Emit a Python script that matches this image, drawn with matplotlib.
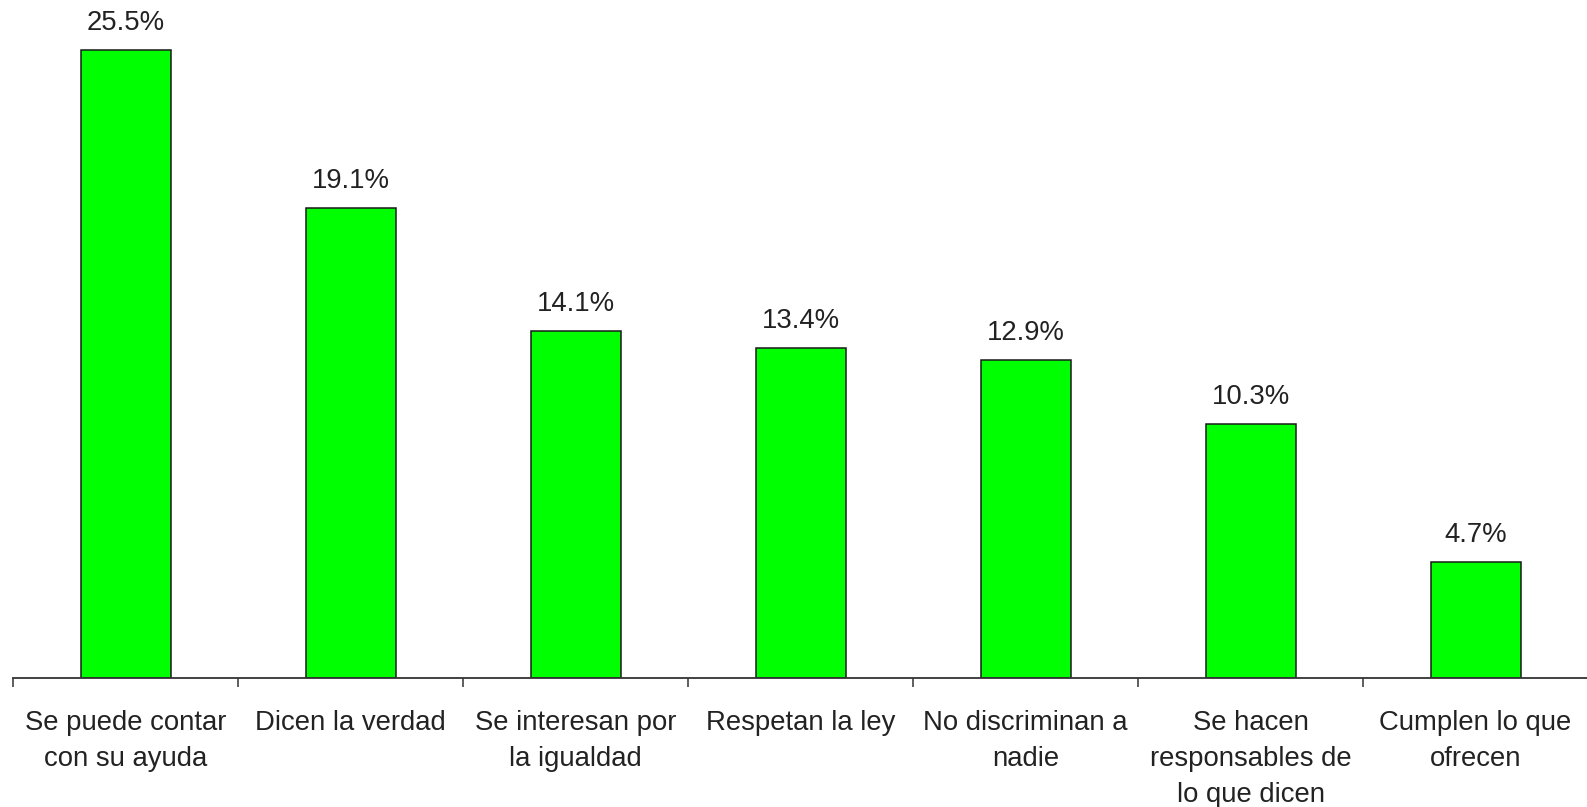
import matplotlib
matplotlib.use("Agg")
import matplotlib.pyplot as plt
import numpy as np

categories = ["Se puede contar\ncon su ayuda", "Dicen la verdad", "Se interesan por\nla igualdad",
              "Respetan la ley", "No discriminan a\nnadie", "Se hacen\nresponsables de\nlo que dicen",
              "Cumplen lo que\nofrecen"]
values = [25.5, 19.1, 14.1, 13.4, 12.9, 10.3, 4.7]
value_labels = ["25.5%", "19.1%", "14.1%", "13.4%", "12.9%", "10.3%", "4.7%"]

plt.rcParams['font.family'] = ['Liberation Sans', 'DejaVu Sans']

W, H = 1587, 807
fig = plt.figure(figsize=(W/100, H/100), dpi=100)
ax_bottom = 1 - 677.7/H
ax = fig.add_axes([13/W, ax_bottom, 1575/W, 1 - ax_bottom])

x = np.arange(len(values))
ax.bar(x, values, width=0.4, color="#00ff00", edgecolor="#1a1a1a", linewidth=1.1, zorder=2)
for xi, v, lab in zip(x, values, value_labels):
    ax.annotate(lab, (xi, v), xytext=(0, 14.5), textcoords="offset points",
                ha="center", va="baseline", fontsize=19.8, color="#222222")

ax.set_xlim(-0.5, 6.5)
ax.set_ylim(0, 677.7/24.6)
for s in ["top", "left", "right"]:
    ax.spines[s].set_visible(False)
ax.spines["bottom"].set_color("#333333")
ax.spines["bottom"].set_linewidth(1.3)
ax.set_yticks([])
ax.set_xticks(x)
ax.set_xticklabels(categories, fontsize=19.8, color="#222222", linespacing=1.5)
ax.tick_params(axis="x", which="major", length=0, pad=23)
ax.set_xticks(np.arange(-0.5, 6.6, 1.0), minor=True)
ax.tick_params(axis="x", which="minor", length=6.5, width=1.1, color="#333333")

fig.savefig("out.png", dpi=100)
